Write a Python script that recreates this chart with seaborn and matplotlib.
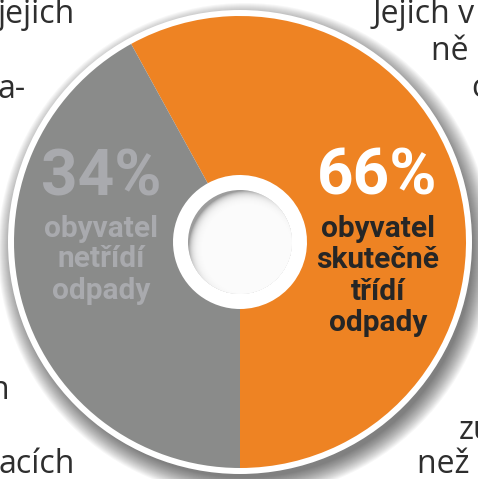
import matplotlib
matplotlib.use("Agg")
import matplotlib.pyplot as plt
import seaborn as sns
from matplotlib.patches import Circle

sns.set_theme(style="white")
plt.rcParams['font.family'] = ['Open Sans', 'DejaVu Sans']

# --- data ---
categories = ["obyvatel skutečně třídí odpady", "obyvatel netřídí odpady"]
percent_labels = ["66%", "34%"]
drawn_share = [58, 42]          # wedge sizes as drawn in the reference graphic
slice_colors = ["#EE8323", "#8A8B8A"]

W, H = 478, 479
fig = plt.figure(figsize=(W / 100, H / 100), dpi=100)
ax = fig.add_axes([0, 0, 1, 1])

def Y(y_img):
    return H - y_img

cx, cy = 240, Y(242)
R_out = 226
R_hole = 67
R_inner = 52

# drop shadow
for k in range(20):
    ax.add_patch(Circle((cx + 5, cy - 8), 247 - k, color="black", alpha=0.03, lw=0, zorder=0))
ax.add_patch(Circle((cx, cy), 232, color="white", lw=0, zorder=1))

wedges, _ = ax.pie(drawn_share, colors=slice_colors, startangle=-90, counterclock=True,
                   center=(cx, cy), radius=R_out,
                   wedgeprops=dict(width=R_out - R_hole, linewidth=0))
for w in wedges:
    w.set_zorder(2)

# inner disc with inner shadow
base = Circle((cx, cy), R_inner, color="#9C9C9C", lw=0, zorder=3)
ax.add_patch(base)
for k in range(16):
    c = Circle((cx + 7, cy - 7), 58 - k * 0.9, color="white", alpha=0.22, lw=0, zorder=4)
    ax.add_patch(c)
    c.set_clip_path(base)

ax.set_xlim(0, W)
ax.set_ylim(0, H)
ax.set_aspect("equal")
ax.axis("off")

# percentage labels
lab_font = ["Roboto", "DejaVu Sans"]
ax.text(377, Y(177), percent_labels[0], ha="center", va="center", color="white",
        fontsize=46, fontweight="bold", family=lab_font, zorder=5)
ax.text(101, Y(178), percent_labels[1], ha="center", va="center", color="#A9AAAE",
        fontsize=46, fontweight="bold", family=lab_font, zorder=5)

orange_lines = ["obyvatel", "skutečně", "třídí", "odpady"]
orange_y = [229, 260, 292, 323]
for t, y in zip(orange_lines, orange_y):
    ax.text(378, Y(y), t, ha="center", va="center", color="#262626",
            fontsize=21.5, fontweight="bold", family=lab_font, zorder=5)

gray_lines = ["obyvatel", "netřídí", "odpady"]
gray_y = [229, 259, 291]
for t, y in zip(gray_lines, gray_y):
    ax.text(101, Y(y), t, ha="center", va="center", color="#A9AAAE",
            fontsize=21.5, fontweight="bold", family=lab_font, zorder=5)

# surrounding body text fragments
body = dict(color="#2E2E2E", fontsize=23, va="baseline", ha="left", zorder=6)
ax.text(-2, Y(23), "jejich", **body)
ax.text(-3, Y(98), "a-", **body)
ax.text(-11, Y(399), "n", **body)
ax.text(-2, Y(473), "acích", **body)
ax.text(373, Y(23), "Jejich v", **body)
ax.text(431, Y(60), "ně :", **body)
ax.text(471, Y(97), "c", **body)
ax.text(459, Y(439), "zu", **body)
ax.text(417, Y(473), "než '", **body)

fig.savefig("out.png", dpi=100)
